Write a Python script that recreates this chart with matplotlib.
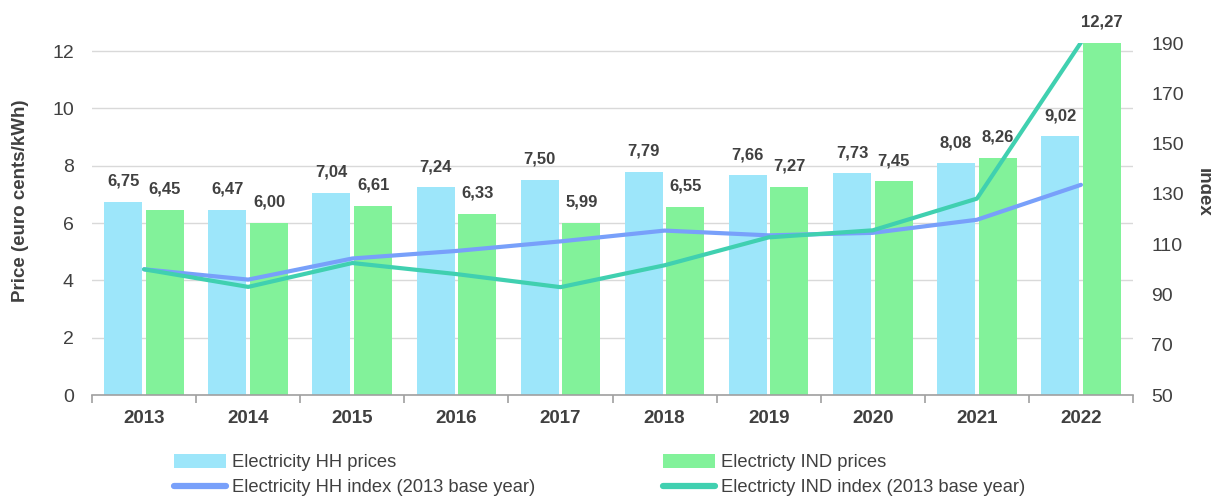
import numpy as np
import matplotlib.pyplot as plt
from matplotlib.ticker import FixedLocator

plt.rcParams['font.family'] = ['Liberation Sans', 'DejaVu Sans']

#%% data
years = ['2013', '2014', '2015', '2016', '2017', '2018', '2019', '2020', '2021', '2022']
hh_price = [6.75, 6.47, 7.04, 7.24, 7.50, 7.79, 7.66, 7.73, 8.08, 9.02]
ind_price = [6.45, 6.00, 6.61, 6.33, 5.99, 6.55, 7.27, 7.45, 8.26, 12.27]
hh_index = [100, 95.9, 104.3, 107.3, 111.1, 115.4, 113.5, 114.5, 119.7, 133.6]
ind_index = [100, 93.0, 102.5, 98.1, 92.9, 101.6, 112.7, 115.5, 128.1, 190.2]

c_hh_bar = '#9de6fa'
c_ind_bar = '#82f29a'
c_hh_line = '#78a0fa'
c_ind_line = '#40d0b0'
txt = '#404040'

fig = plt.figure(figsize=(12.11, 4.96), dpi=100)
ax = fig.add_axes([0.076, 0.2036, 0.8596, 0.7097])
ax2 = ax.twinx()

x = np.arange(len(years))
w = 0.365
b1 = ax.bar(x - 0.2, hh_price, w, color=c_hh_bar, label='Electricity HH prices', zorder=2)
b2 = ax.bar(x + 0.2, ind_price, w, color=c_ind_bar, label='Electricty IND prices', zorder=2)

for xi, v in zip(x, hh_price):
    ax.annotate(f'{v:.2f}'.replace('.', ','), (xi - 0.2, v), xytext=(0, 15),
                textcoords='offset points', ha='center', va='center',
                fontsize=12, fontweight='bold', color=txt)
for xi, v in zip(x, ind_price):
    ax.annotate(f'{v:.2f}'.replace('.', ','), (xi + 0.2, v), xytext=(0, 15),
                textcoords='offset points', ha='center', va='center',
                fontsize=12, fontweight='bold', color=txt)

l1, = ax2.plot(x, hh_index, color=c_hh_line, lw=3, label='Electricity HH index (2013 base year)',
               solid_capstyle='round', zorder=3)
l2, = ax2.plot(x, ind_index, color=c_ind_line, lw=3, label='Electricty IND index (2013 base year)',
               solid_capstyle='round', zorder=3)

ax.set_xlim(-0.5, len(years) - 0.5)
ax.set_ylim(0, 12.28)
ax2.set_ylim(50, 190)
ax.set_yticks(range(0, 13, 2))
ax2.set_yticks(range(50, 191, 20))

ax.set_xticks(x)
ax.set_xticklabels(years, fontsize=13.5, fontweight='bold', color=txt)
ax.xaxis.set_minor_locator(FixedLocator(np.arange(-0.5, len(years), 1)))
ax.tick_params(axis='x', which='major', length=0, pad=11)
ax.tick_params(axis='x', which='minor', length=6, color='#a0a0a0', width=1.2)
ax.tick_params(axis='y', length=0, labelsize=14, labelcolor=txt, pad=13)
ax2.tick_params(axis='y', length=0, labelsize=14, labelcolor=txt, pad=13)

ax.grid(axis='y', color='#d9d9d9', lw=1, zorder=0)
ax.set_axisbelow(True)
for s in ['top', 'left', 'right']:
    ax.spines[s].set_visible(False)
    ax2.spines[s].set_visible(False)
ax2.spines['bottom'].set_visible(False)
ax.spines['bottom'].set_color('#a0a0a0')
ax.spines['bottom'].set_linewidth(1.2)

ax.set_ylabel('Price (euro cents/kWh)', fontsize=13.5, fontweight='bold', color=txt, va='center')
ax.yaxis.set_label_coords(-0.069, 0.551)
ax2.set_ylabel('Index', fontsize=13.5, fontweight='bold', color=txt, rotation=270, va='center')
ax2.yaxis.set_label_coords(1.067, 0.577)

leg = fig.legend(handles=[b1, l1, b2, l2], ncol=2, loc='upper left',
                 bbox_to_anchor=(0.138, 0.1), frameon=False, fontsize=13.2,
                 handlelength=2.8, handleheight=0.8, handletextpad=0.33, columnspacing=7.0,
                 labelspacing=0.43, borderaxespad=0)
for t in leg.get_texts():
    t.set_color(txt)
for h in leg.legend_handles[1::2]:
    h.set_linewidth(4.5)

fig.savefig('out.png', dpi=100)
